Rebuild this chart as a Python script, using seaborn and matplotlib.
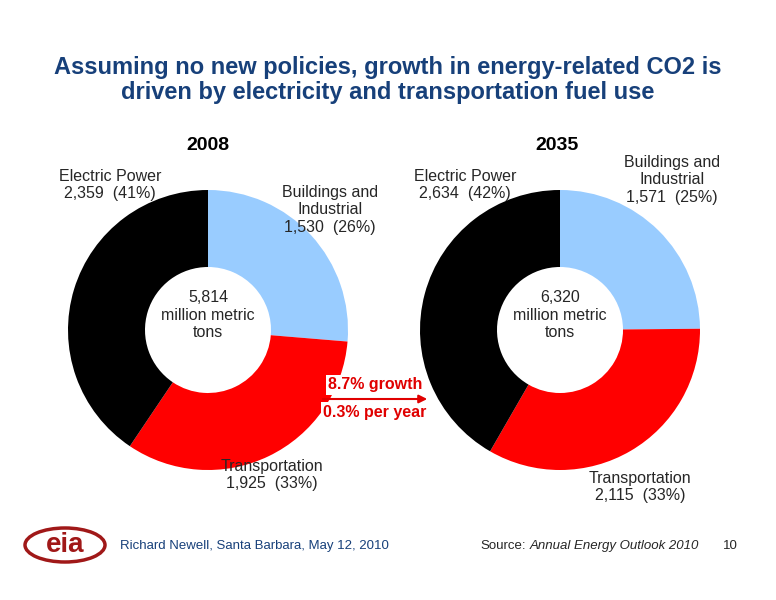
import matplotlib.pyplot as plt
import seaborn as sns
from matplotlib.patches import Ellipse

sns.set_theme(style="white")
plt.rcParams['font.family'] = ['Liberation Sans', 'DejaVu Sans']

sectors = ["Buildings and Industrial", "Transportation", "Electric Power"]
values_2008 = [1530, 1925, 2359]
values_2035 = [1571, 2115, 2634]
colors = ["#99CCFF", "#FF0000", "#000000"]
total_2008 = 5814
total_2035 = 6320

W, H = 776, 600
fig = plt.figure(figsize=(7.76, 6.0), dpi=100)
ax = fig.add_axes([0, 0, 1, 1])

def Y(py):
    return H - py

R = 140
for vals, cx in [(values_2008, 208), (values_2035, 560)]:
    ax.pie(vals, colors=colors, startangle=90, counterclock=False,
           center=(cx, Y(330)), radius=R, frame=True,
           wedgeprops=dict(width=R * 0.55, edgecolor="none"))
ax.set_xlim(0, W)
ax.set_ylim(0, H)
ax.set_aspect("equal")
ax.axis("off")

navy = "#17407A"
ax.text(W / 2, Y(80), "Assuming no new policies, growth in energy-related CO2 is\ndriven by electricity and transportation fuel use",
        ha="center", va="center", fontsize=17, fontweight="bold", color=navy, linespacing=1.15)

fs = 11.5
kw = dict(ha="center", va="center", fontsize=fs, zorder=10)
ax.text(208, Y(145), "2008", ha="center", va="center", fontsize=14, fontweight="bold", color="black")
ax.text(557, Y(145), "2035", ha="center", va="center", fontsize=14, fontweight="bold", color="black")

ax.text(110, Y(185), f"Electric Power\n{values_2008[2]:,}  (41%)", **kw)
ax.text(330, Y(210), f"Buildings and\nIndustrial\n{values_2008[0]:,}  (26%)", **kw)
ax.text(208, Y(315), f"{total_2008:,}\nmillion metric\ntons", **kw)
ax.text(272, Y(475), f"Transportation\n{values_2008[1]:,}  (33%)", **kw)

ax.text(465, Y(185), f"Electric Power\n{values_2035[2]:,}  (42%)", **kw)
ax.text(672, Y(180), f"Buildings and\nIndustrial\n{values_2035[0]:,}  (25%)", **kw)
ax.text(560, Y(315), f"{total_2035:,}\nmillion metric\ntons", **kw)
ax.text(640, Y(487), f"Transportation\n{values_2035[1]:,}  (33%)", **kw)

box = dict(facecolor="white", edgecolor="none", pad=1.5)
ax.text(375, Y(385), "8.7% growth", ha="center", va="center", fontsize=11.5, fontweight="bold",
        color="#E00000", bbox=box, zorder=10)
ax.text(375, Y(412), "0.3% per year", ha="center", va="center", fontsize=11.5, fontweight="bold",
        color="#E00000", bbox=box, zorder=10)
ax.annotate("", xy=(430, Y(399)), xytext=(320, Y(399)),
            arrowprops=dict(arrowstyle="-|>", color="#E00000", lw=1.5), zorder=11)

# logo
ax.add_patch(Ellipse((65, Y(545)), 80, 34, facecolor="none", edgecolor="#A01818", lw=2.5))
ax.text(65, Y(545), "eia", ha="center", va="center", fontsize=20, fontweight="bold", color="#A01818")

ax.text(120, Y(546), "Richard Newell, Santa Barbara, May 12, 2010", ha="left", va="center", fontsize=9.5, color=navy)
ax.text(480, Y(546), "Source:", ha="left", va="center", fontsize=9.5)
ax.text(530, Y(546), "Annual Energy Outlook 2010", ha="left", va="center", fontsize=9.5, style="italic")
ax.text(730, Y(546), "10", ha="center", va="center", fontsize=9.5)

fig.savefig("out.png", dpi=100)
